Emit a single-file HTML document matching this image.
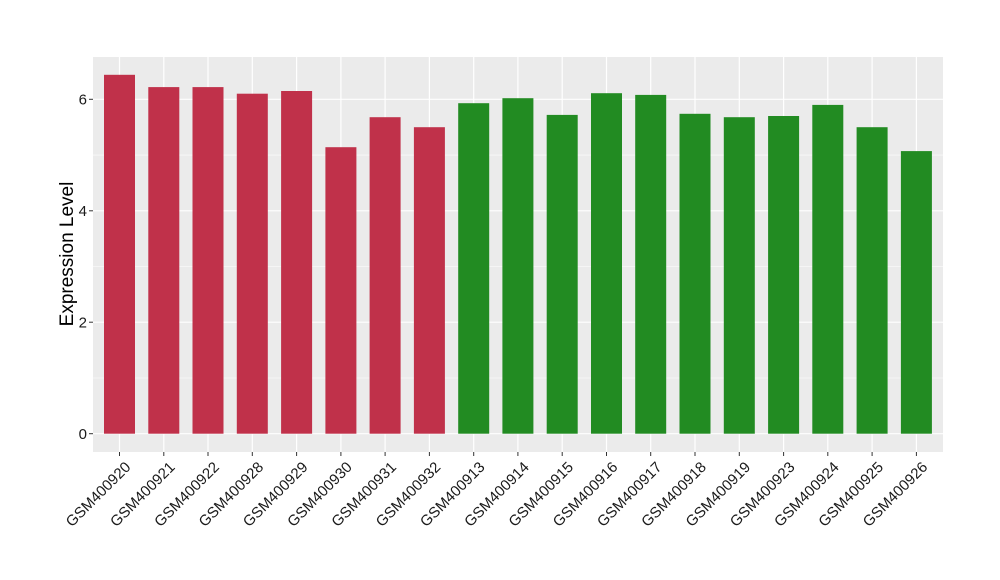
<!DOCTYPE html>
<html><head><style>body{margin:0;background:#fff}svg{display:block}</style></head><body>
<svg width="1000" height="580" xmlns="http://www.w3.org/2000/svg" font-family="Liberation Sans, Arial, sans-serif">
<rect x="93" y="57" width="850" height="395" fill="#EBEBEB"/>
<g stroke="#fff" stroke-width="0.6">
<line x1="93" x2="943" y1="378" y2="378"/><line x1="93" x2="943" y1="266.5" y2="266.5"/><line x1="93" x2="943" y1="155.1" y2="155.1"/>
</g>
<g stroke="#fff" stroke-width="1.2">
<line x1="93" x2="943" y1="433.7" y2="433.7"/><line x1="93" x2="943" y1="322.2" y2="322.2"/><line x1="93" x2="943" y1="210.8" y2="210.8"/><line x1="93" x2="943" y1="99.3" y2="99.3"/>
<line x1="119.5" x2="119.5" y1="57" y2="452"/><line x1="163.8" x2="163.8" y1="57" y2="452"/><line x1="208" x2="208" y1="57" y2="452"/><line x1="252.3" x2="252.3" y1="57" y2="452"/><line x1="296.6" x2="296.6" y1="57" y2="452"/><line x1="340.9" x2="340.9" y1="57" y2="452"/><line x1="385.1" x2="385.1" y1="57" y2="452"/><line x1="429.4" x2="429.4" y1="57" y2="452"/><line x1="473.7" x2="473.7" y1="57" y2="452"/><line x1="517.9" x2="517.9" y1="57" y2="452"/><line x1="562.2" x2="562.2" y1="57" y2="452"/><line x1="606.5" x2="606.5" y1="57" y2="452"/><line x1="650.7" x2="650.7" y1="57" y2="452"/><line x1="695" x2="695" y1="57" y2="452"/><line x1="739.3" x2="739.3" y1="57" y2="452"/><line x1="783.6" x2="783.6" y1="57" y2="452"/><line x1="827.8" x2="827.8" y1="57" y2="452"/><line x1="872.1" x2="872.1" y1="57" y2="452"/><line x1="916.4" x2="916.4" y1="57" y2="452"/>
</g>
<g fill="#C0314A">
<rect x="104" y="74.8" width="31" height="358.9"/>
<rect x="148.3" y="87.1" width="31" height="346.6"/>
<rect x="192.5" y="87.1" width="31" height="346.6"/>
<rect x="236.8" y="93.7" width="31" height="340"/>
<rect x="281.1" y="91" width="31" height="342.7"/>
<rect x="325.4" y="147.2" width="31" height="286.5"/>
<rect x="369.6" y="117.2" width="31" height="316.5"/>
<rect x="413.9" y="127.2" width="31" height="306.5"/>
</g>
<g fill="#228B22">
<rect x="458.2" y="103.2" width="31" height="330.5"/>
<rect x="502.4" y="98.2" width="31" height="335.5"/>
<rect x="546.7" y="114.9" width="31" height="318.8"/>
<rect x="591" y="93.2" width="31" height="340.5"/>
<rect x="635.2" y="94.9" width="31" height="338.8"/>
<rect x="679.5" y="113.8" width="31" height="319.9"/>
<rect x="723.8" y="117.2" width="31" height="316.5"/>
<rect x="768.1" y="116" width="31" height="317.7"/>
<rect x="812.3" y="104.9" width="31" height="328.8"/>
<rect x="856.6" y="127.2" width="31" height="306.5"/>
<rect x="900.9" y="151.1" width="31" height="282.6"/>
</g>
<g stroke="#333" stroke-width="1">
<line x1="89" x2="93" y1="433.7" y2="433.7"/><line x1="89" x2="93" y1="322.2" y2="322.2"/><line x1="89" x2="93" y1="210.8" y2="210.8"/><line x1="89" x2="93" y1="99.3" y2="99.3"/>
<line x1="119.5" x2="119.5" y1="452" y2="456"/><line x1="163.8" x2="163.8" y1="452" y2="456"/><line x1="208" x2="208" y1="452" y2="456"/><line x1="252.3" x2="252.3" y1="452" y2="456"/><line x1="296.6" x2="296.6" y1="452" y2="456"/><line x1="340.9" x2="340.9" y1="452" y2="456"/><line x1="385.1" x2="385.1" y1="452" y2="456"/><line x1="429.4" x2="429.4" y1="452" y2="456"/><line x1="473.7" x2="473.7" y1="452" y2="456"/><line x1="517.9" x2="517.9" y1="452" y2="456"/><line x1="562.2" x2="562.2" y1="452" y2="456"/><line x1="606.5" x2="606.5" y1="452" y2="456"/><line x1="650.7" x2="650.7" y1="452" y2="456"/><line x1="695" x2="695" y1="452" y2="456"/><line x1="739.3" x2="739.3" y1="452" y2="456"/><line x1="783.6" x2="783.6" y1="452" y2="456"/><line x1="827.8" x2="827.8" y1="452" y2="456"/><line x1="872.1" x2="872.1" y1="452" y2="456"/><line x1="916.4" x2="916.4" y1="452" y2="456"/>
</g>
<g font-size="15" text-anchor="end" fill="#1A1A1A">
<text x="87" y="439">0</text><text x="87" y="327.5">2</text><text x="87" y="216.1">4</text><text x="87" y="104.6">6</text>
<text transform="translate(131.5,468) rotate(-45)">GSM400920</text>
<text transform="translate(175.8,468) rotate(-45)">GSM400921</text>
<text transform="translate(220,468) rotate(-45)">GSM400922</text>
<text transform="translate(264.3,468) rotate(-45)">GSM400928</text>
<text transform="translate(308.6,468) rotate(-45)">GSM400929</text>
<text transform="translate(352.9,468) rotate(-45)">GSM400930</text>
<text transform="translate(397.1,468) rotate(-45)">GSM400931</text>
<text transform="translate(441.4,468) rotate(-45)">GSM400932</text>
<text transform="translate(485.7,468) rotate(-45)">GSM400913</text>
<text transform="translate(529.9,468) rotate(-45)">GSM400914</text>
<text transform="translate(574.2,468) rotate(-45)">GSM400915</text>
<text transform="translate(618.5,468) rotate(-45)">GSM400916</text>
<text transform="translate(662.7,468) rotate(-45)">GSM400917</text>
<text transform="translate(707,468) rotate(-45)">GSM400918</text>
<text transform="translate(751.3,468) rotate(-45)">GSM400919</text>
<text transform="translate(795.6,468) rotate(-45)">GSM400923</text>
<text transform="translate(839.8,468) rotate(-45)">GSM400924</text>
<text transform="translate(884.1,468) rotate(-45)">GSM400925</text>
<text transform="translate(928.4,468) rotate(-45)">GSM400926</text>
</g>
<text transform="translate(73,254) rotate(-90)" font-size="19" text-anchor="middle" fill="#000">Expression Level</text>
</svg>
</body></html>
